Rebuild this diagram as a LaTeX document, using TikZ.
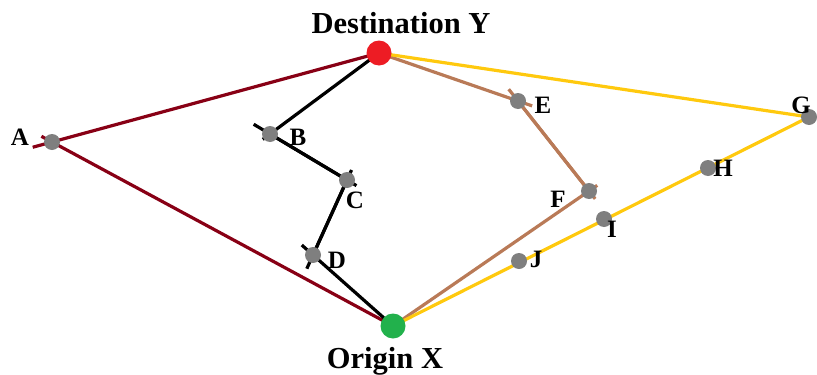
\documentclass[tikz,border=0pt]{standalone}
\usepackage{fontspec}
\setmainfont{Liberation Serif}
\definecolor{routeRed}{HTML}{880015}
\definecolor{routeBrown}{HTML}{B97A57}
\definecolor{routeGold}{HTML}{FFC90E}
\definecolor{stopGrey}{HTML}{7F7F7F}
\definecolor{destRed}{HTML}{ED1C24}
\definecolor{origGreen}{HTML}{22B14C}
\begin{document}
\begin{tikzpicture}[x=1pt,y=-1pt,
  route/.style={line width=3.2pt},
  over/.style={shorten >=-15pt},
  stop/.style={circle,fill=stopGrey,inner sep=0pt,minimum size=16pt},
  endpt/.style={circle,inner sep=0pt,minimum size=25pt},
  lbl/.style={anchor=base,font=\bfseries\fontsize{25}{25}\selectfont,inner sep=0pt},
  title/.style={anchor=base,font=\bfseries\fontsize{30.5}{30.5}\selectfont,inner sep=0pt}]
\useasboundingbox (0,0) rectangle (817,375);

% stop positions
\coordinate (Y) at (379,53);
\coordinate (X) at (393,326);
\coordinate (A) at (52,142);
\coordinate (B) at (270,134);
\coordinate (C) at (347,180);
\coordinate (D) at (313,255);
\coordinate (E) at (518,101);
\coordinate (F) at (589,191);
\coordinate (G) at (809,117);
\coordinate (H) at (708,168);
\coordinate (I) at (604,219);
\coordinate (J) at (519,261);

% route via A
\draw[route,routeRed,shorten >=-20pt] (Y) -- (A);
\draw[route,routeRed,shorten >=-12pt] (X) -- (A);
% route via B, C, D
\draw[route,black,shorten >=-9pt] (Y) -- (B);
\draw[route,black,shorten >=-19pt] (C) -- (B);
\draw[route,black,shorten >=-11pt] (B) -- (C);
\draw[route,black,shorten >=-11pt] (D) -- (C);
\draw[route,black,over] (C) -- (D);
\draw[route,black,over] (X) -- (D);
% route via E, F
\draw[route,routeBrown,over] (Y) -- (E);
\draw[route,routeBrown,over] (F) -- (E);
\draw[route,routeBrown,shorten >=-10pt] (E) -- (F);
\draw[route,routeBrown,shorten >=-10pt] (X) -- (F);
% route via G, H, I, J
\draw[route,routeGold] (Y) -- (G) -- (X);

% stops
\foreach \p in {A,B,C,D,E,F,G,H,I,J}
  \node[stop] (s\p) at (\p) {};
\node[endpt,fill=destRed] (dY) at (Y) {};
\node[endpt,fill=origGreen] (dX) at (X) {};

% labels
\node[lbl] (lA) at (20,145) {A};
\node[lbl] (lB) at (298,145) {B};
\node[lbl] (lC) at (355,208) {C};
\node[lbl] (lD) at (337,268) {D};
\node[lbl] (lE) at (543,113) {E};
\node[lbl] (lF) at (558,207) {F};
\node[lbl] (lG) at (801,113) {G};
\node[lbl] (lH) at (723,176) {H};
\node[lbl] (lI) at (612,237) {I};
\node[lbl] (lJ) at (536,267) {J};
\node[title] (tY) at (401,33) {Destination Y};
\node[title] (tX) at (385,368) {Origin X};
\end{tikzpicture}
\end{document}
